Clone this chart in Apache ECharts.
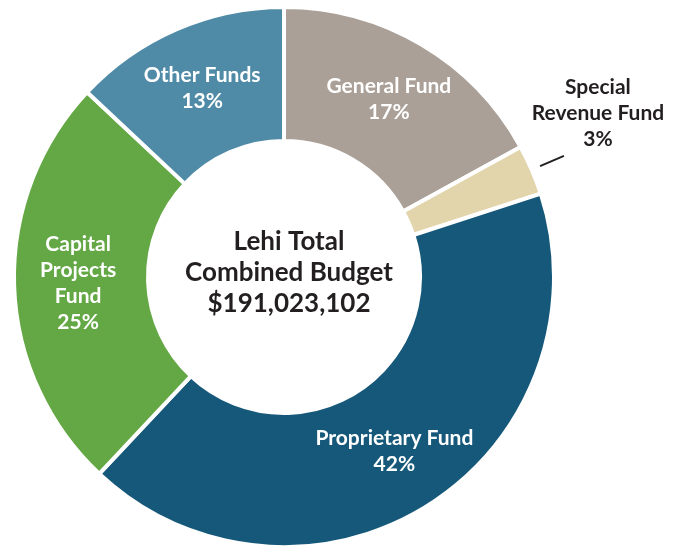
<!DOCTYPE html>
<html>
<head>
<meta charset="utf-8">
<style>
  html, body { margin: 0; padding: 0; background: #fff; }
  #chart { width: 678px; height: 547px; }
</style>
<script src="https://cdn.jsdelivr.net/npm/echarts@6/dist/echarts.min.js"></script>
</head>
<body>
<div id="chart"></div>
<script>
const fundNames = ['General Fund', 'Special\nRevenue Fund', 'Proprietary Fund', 'Capital\nProjects\nFund', 'Other Funds']
const fundShares = [17, 3, 42, 25, 13]
const fundColors = ['#aaa097', '#e2d4ab', '#16587a', '#63a845', '#4f8ba7']
const centerTitle = 'Lehi Total\nCombined Budget\n$191,023,102'

const fontFamily = 'Lato, "Open Sans", sans-serif'
const textDark = '#231f20'

const chart = echarts.init(document.getElementById('chart'))

const pieData = fundNames.map((name, i) => {
  const item = {
    name: name,
    value: fundShares[i],
    itemStyle: { color: fundColors[i] },
  }
  // the small slice gets its label outside with a leader line
  if (i === 1) {
    item.label = {
      position: 'outside',
      color: textDark,
      align: 'center',
    }
    item.labelLine = { show: true, length: 30, length2: 0, lineStyle: { color: textDark, width: 2 } }
  }
  return item
})

chart.setOption({
  animation: false,
  title: {
    text: centerTitle,
    left: 284,
    top: 268,
    textAlign: 'center',
    textVerticalAlign: 'middle',
    textStyle: {
      fontFamily: fontFamily,
      fontWeight: 'bold',
      fontSize: 26,
      lineHeight: 31,
      color: textDark,
    },
  },
  series: [{
    type: 'pie',
    center: [284, 277],
    radius: [136, 270],
    startAngle: 90,
    clockwise: true,
    avoidLabelOverlap: false,
    itemStyle: { borderColor: '#fff', borderWidth: 4 },
    label: {
      show: true,
      position: 'inside',
      formatter: (p) => p.name + '\n' + p.value + '%',
      fontFamily: fontFamily,
      fontWeight: 'bold',
      fontSize: 21,
      lineHeight: 26,
      color: '#fff',
      align: 'center',
    },
    labelLine: { show: false },
    labelLayout: (params) => {
      if (params.dataIndex !== 1) return {}
      const pts = params.labelLinePoints
      const p0 = pts[0]
      const p1 = pts[1]
      const len = Math.hypot(p1[0] - p0[0], p1[1] - p0[1])
      const ux = (p1[0] - p0[0]) / len
      const uy = (p1[1] - p0[1]) / len
      // leader line starts a little off the slice, as in the source
      const start = [p0[0] + ux * 9, p0[1] + uy * 9]
      const end = [p0[0] + ux * 35, p0[1] + uy * 35]
      return {
        x: end[0] + 34,
        y: end[1] - 43,
        align: 'center',
        verticalAlign: 'middle',
        labelLinePoints: [start, end, end],
      }
    },
    data: pieData,
  }],
})
</script>
</body>
</html>
